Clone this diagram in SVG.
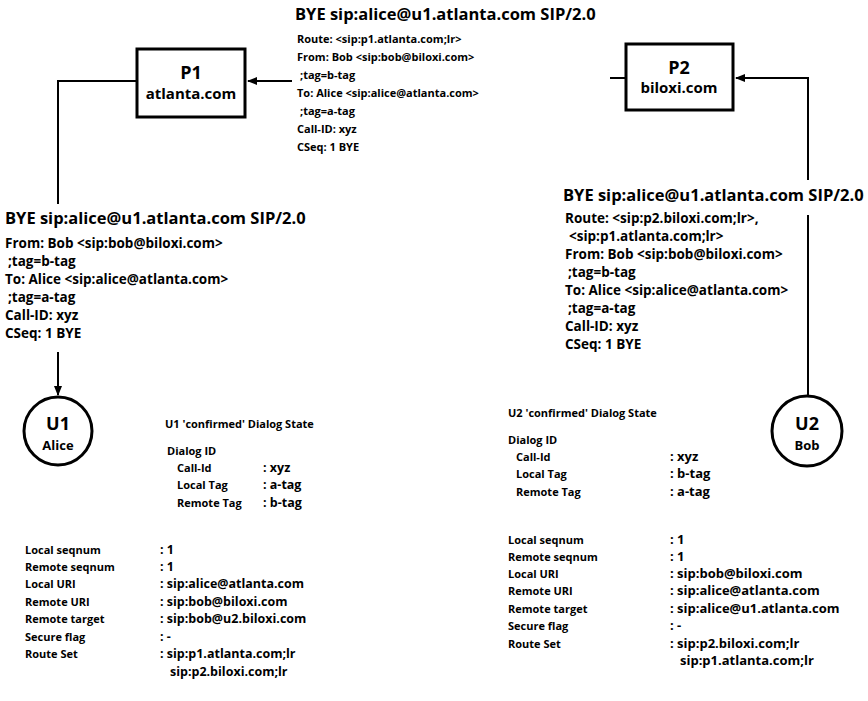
<svg xmlns="http://www.w3.org/2000/svg" width="868" height="701" viewBox="0 0 868 701">
<style>
text{font-family:"Open Sans","Liberation Sans",Arial,sans-serif;font-weight:bold;fill:#000}
.h{font-size:16.5px}
.m{font-size:13.5px}
.mt{font-size:11px}
.s{font-size:11px}
.v1{font-size:12.5px}
.v2{font-size:13px}
.t{font-size:11px}
.n1{font-size:18px;text-anchor:middle}
.n2{font-size:15px;text-anchor:middle}
.n3{font-size:13px;text-anchor:middle}
.box{fill:#fff;stroke:#000;stroke-width:3}
.ln{fill:none;stroke:#000;stroke-width:2}
</style>
<defs>
<marker id="ah" viewBox="0 0 10 10" refX="9" refY="5" markerWidth="5" markerHeight="5" orient="auto">
<path d="M0,1 L10,5 L0,9 z" fill="#000"/>
</marker>
</defs>
<g id="connectors">
<path class="ln" d="M292,81 L248,81" marker-end="url(#ah)"/>
<path class="ln" d="M137,81 L58,81 L58,204"/>
<path class="ln" d="M58,352 L58,395" marker-end="url(#ah)"/>
<path class="ln" d="M610,78 L626,78"/>
<path class="ln" d="M808,180 L808,78 L736,78" marker-end="url(#ah)"/>
<path class="ln" d="M808,215 L808,396"/>
</g>
<g id="P1">
<rect class="box" x="137" y="49" width="108" height="68"/>
<text class="n1" x="191" y="79">P1</text>
<text class="n2" x="191" y="99">atlanta.com</text>
</g>
<g id="P2">
<rect class="box" x="626" y="44" width="107" height="66"/>
<text class="n1" x="679" y="74">P2</text>
<text class="n2" x="679" y="93">biloxi.com</text>
</g>
<g id="U1">
<circle class="box" cx="58" cy="431" r="34"/>
<text class="n1" x="58" y="430">U1</text>
<text class="n3" x="58" y="450">Alice</text>
</g>
<g id="U2">
<circle class="box" cx="807" cy="431" r="35"/>
<text class="n1" x="807" y="430">U2</text>
<text class="n3" x="807" y="450">Bob</text>
</g>
<g id="msg-top">
<text class="h" x="295" y="20">BYE sip:alice@u1.atlanta.com SIP/2.0</text>
<text class="mt" x="297" y="43">Route: &lt;sip:p1.atlanta.com;lr&gt;</text>
<text class="mt" x="297" y="61">From: Bob &lt;sip:bob@biloxi.com&gt;</text>
<text class="mt" x="300" y="79">;tag=b-tag</text>
<text class="mt" x="297" y="97">To: Alice &lt;sip:alice@atlanta.com&gt;</text>
<text class="mt" x="300" y="115">;tag=a-tag</text>
<text class="mt" x="297" y="133">Call-ID: xyz</text>
<text class="mt" x="297" y="151">CSeq: 1 BYE</text>
</g>
<g id="msg-left">
<text class="h" x="5" y="224">BYE sip:alice@u1.atlanta.com SIP/2.0</text>
<text class="m" x="5" y="248">From: Bob &lt;sip:bob@biloxi.com&gt;</text>
<text class="m" x="8" y="266">;tag=b-tag</text>
<text class="m" x="5" y="284">To: Alice &lt;sip:alice@atlanta.com&gt;</text>
<text class="m" x="8" y="302">;tag=a-tag</text>
<text class="m" x="5" y="320">Call-ID: xyz</text>
<text class="m" x="5" y="338">CSeq: 1 BYE</text>
</g>
<g id="msg-right">
<text class="h" x="563" y="201">BYE sip:alice@u1.atlanta.com SIP/2.0</text>
<text class="m" x="565" y="223">Route: &lt;sip:p2.biloxi.com;lr&gt;,</text>
<text class="m" x="569" y="241">&lt;sip:p1.atlanta.com;lr&gt;</text>
<text class="m" x="565" y="259">From: Bob &lt;sip:bob@biloxi.com&gt;</text>
<text class="m" x="568" y="277">;tag=b-tag</text>
<text class="m" x="565" y="295">To: Alice &lt;sip:alice@atlanta.com&gt;</text>
<text class="m" x="568" y="313">;tag=a-tag</text>
<text class="m" x="565" y="331">Call-ID: xyz</text>
<text class="m" x="565" y="349">CSeq: 1 BYE</text>
</g>
<g id="state-u1">
<text class="t" x="165" y="428">U1 'confirmed' Dialog State</text>
<text class="s" x="167" y="455">Dialog ID</text>
<text class="s" x="177" y="472">Call-Id</text><text class="v1" x="263" y="472">: xyz</text>
<text class="s" x="177" y="489">Local Tag</text><text class="v1" x="263" y="489">: a-tag</text>
<text class="s" x="177" y="507">Remote Tag</text><text class="v1" x="263" y="507">: b-tag</text>
<text class="s" x="25" y="554">Local seqnum</text><text class="v1" x="160" y="554">: 1</text>
<text class="s" x="25" y="571">Remote seqnum</text><text class="v1" x="160" y="571">: 1</text>
<text class="s" x="25" y="588">Local URI</text><text class="v1" x="160" y="588">: sip:alice@atlanta.com</text>
<text class="s" x="25" y="606">Remote URI</text><text class="v1" x="160" y="606">: sip:bob@biloxi.com</text>
<text class="s" x="25" y="623">Remote target</text><text class="v1" x="160" y="623">: sip:bob@u2.biloxi.com</text>
<text class="s" x="25" y="641">Secure flag</text><text class="v1" x="160" y="641">: -</text>
<text class="s" x="25" y="658">Route Set</text><text class="v1" x="160" y="658">: sip:p1.atlanta.com;lr</text>
<text class="v1" x="170" y="676">sip:p2.biloxi.com;lr</text>
</g>
<g id="state-u2">
<text class="t" x="508" y="417">U2 'confirmed' Dialog State</text>
<text class="s" x="508" y="444">Dialog ID</text>
<text class="s" x="516" y="461">Call-Id</text><text class="v2" x="670" y="461">: xyz</text>
<text class="s" x="516" y="478">Local Tag</text><text class="v2" x="670" y="478">: b-tag</text>
<text class="s" x="516" y="496">Remote Tag</text><text class="v2" x="670" y="496">: a-tag</text>
<text class="s" x="508" y="544">Local seqnum</text><text class="v2" x="670" y="544">: 1</text>
<text class="s" x="508" y="561">Remote seqnum</text><text class="v2" x="670" y="561">: 1</text>
<text class="s" x="508" y="578">Local URI</text><text class="v2" x="670" y="578">: sip:bob@biloxi.com</text>
<text class="s" x="508" y="595">Remote URI</text><text class="v2" x="670" y="595">: sip:alice@atlanta.com</text>
<text class="s" x="508" y="613">Remote target</text><text class="v2" x="670" y="613">: sip:alice@u1.atlanta.com</text>
<text class="s" x="508" y="630">Secure flag</text><text class="v2" x="670" y="630">: -</text>
<text class="s" x="508" y="648">Route Set</text><text class="v2" x="670" y="648">: sip:p2.biloxi.com;lr</text>
<text class="v2" x="680" y="665">sip:p1.atlanta.com;lr</text>
</g>
</svg>
